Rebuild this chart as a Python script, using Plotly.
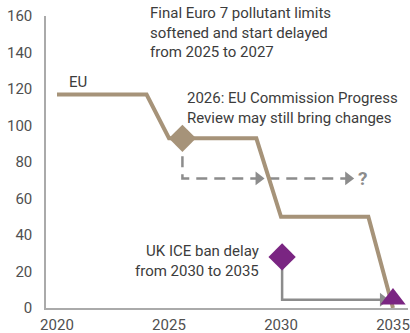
import plotly.graph_objects as go

# EU emission-limit pathway (index)
eu_years = [2020, 2024, 2025, 2028.9, 2030, 2033.9, 2035]
eu_values = [117, 117, 93, 93, 50, 50, 0]

# Possible revision after the 2026 progress review
review_years = [2025.6, 2025.6, 2033.0]
review_values = [93, 71, 71]
review_heads_x = [2029.0, 2033.0]
review_heads_y = [71, 71]

# UK ICE ban move from 2030 to 2035
uk_years = [2030.05, 2030.05, 2034.55]
uk_values = [28, 4.5, 4.5]

x_ticks = [2020, 2025, 2030, 2035]
y_ticks = [0, 20, 40, 60, 80, 100, 120, 140, 160]

TAN = "#A69379"
PURPLE = "#7A2582"
GREY = "#8C8C8C"
TEXT = "#3C3C3C"
FONT = "Roboto"

fig = go.Figure()

fig.add_trace(go.Scatter(
    x=review_years, y=review_values, mode="lines",
    line=dict(color=GREY, width=2.5, dash="11px,7px"),
    hoverinfo="skip"))
fig.add_trace(go.Scatter(
    x=review_heads_x, y=review_heads_y, mode="markers",
    marker=dict(symbol="triangle-right", size=12, color=GREY),
    hoverinfo="skip"))

fig.add_trace(go.Scatter(
    x=uk_years, y=uk_values, mode="lines",
    line=dict(color=GREY, width=2.5), hoverinfo="skip"))
fig.add_trace(go.Scatter(
    x=[uk_years[-1]], y=[uk_values[-1]], mode="markers",
    marker=dict(symbol="triangle-right", size=12, color=GREY),
    hoverinfo="skip"))

fig.add_trace(go.Scatter(
    x=eu_years, y=eu_values, mode="lines",
    line=dict(color=TAN, width=4), hoverinfo="skip"))

# Milestone markers
fig.add_trace(go.Scatter(
    x=[2025.6], y=[93], mode="markers",
    marker=dict(symbol="diamond", size=21, color=TAN), hoverinfo="skip"))
fig.add_trace(go.Scatter(
    x=[2030.05], y=[28], mode="markers",
    marker=dict(symbol="diamond", size=21, color=PURPLE), hoverinfo="skip"))
fig.add_trace(go.Scatter(
    x=[2035], y=[5], mode="markers",
    marker=dict(symbol="triangle-up", size=22, color=PURPLE), hoverinfo="skip"))

notes = [
    dict(x=2024.05, y=151, text="Final Euro 7 pollutant limits<br>softened and start delayed<br>from 2025 to 2027",
         xanchor="left", yanchor="middle", align="left"),
    dict(x=2025.7, y=109.5, text="2026: EU Commission Progress<br>Review may still bring changes",
         xanchor="left", yanchor="middle", align="left"),
    dict(x=2029.1, y=25.5, text="UK ICE ban delay<br>from 2030 to 2035",
         xanchor="right", yanchor="middle", align="right"),
    dict(x=2020.45, y=124, text="EU", xanchor="left", yanchor="middle", align="left"),
]
for n in notes:
    fig.add_annotation(xref="x", yref="y", showarrow=False,
                       font=dict(family=FONT, size=15, color=TEXT), **n)
fig.add_annotation(xref="x", yref="y", x=2033.65, y=71, text="<b>?</b>", showarrow=False,
                   xanchor="center", yanchor="middle",
                   font=dict(family=FONT, size=19, color=GREY))

fig.update_layout(
    width=410, height=333,
    margin=dict(l=46, r=2, t=16, b=25),
    paper_bgcolor="white", plot_bgcolor="white",
    showlegend=False,
    font=dict(family=FONT, size=15, color="#505050"),
    xaxis=dict(range=[2019.51, 2035.67], tickvals=x_ticks, showgrid=False, zeroline=False,
               showline=True, linecolor="#AAAAAA", linewidth=1.5, ticks="",
               ticklabelstandoff=2, fixedrange=True, automargin=False),
    yaxis=dict(range=[0, 160], tickvals=y_ticks, showgrid=False, zeroline=False,
               showline=True, linecolor="#AAAAAA", linewidth=1.5, ticks="",
               ticklabelstandoff=9, fixedrange=True, automargin=False),
)

fig.write_html("out.html")
